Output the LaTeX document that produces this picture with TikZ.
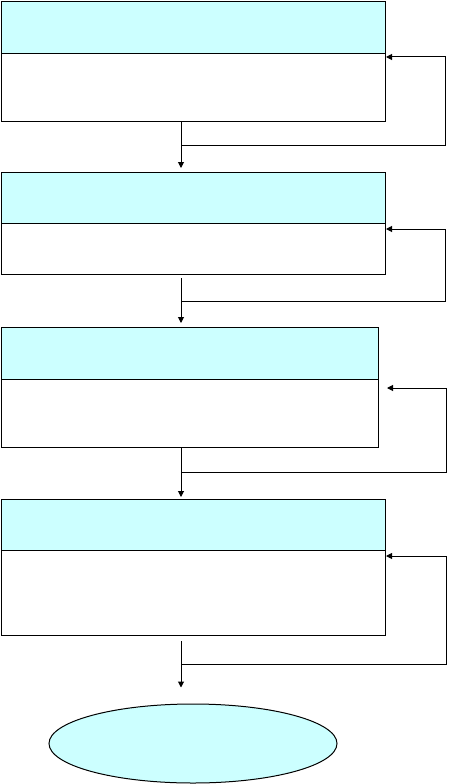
\documentclass[tikz,border=0pt]{standalone}
\usetikzlibrary{arrows.meta,shapes.geometric}
\definecolor{hdr}{HTML}{CCFFFF}
\tikzset{
  hbox/.style={draw=black,line width=1pt,fill=hdr,rectangle,anchor=north west,inner sep=0pt,minimum width=#1},
  bbox/.style={draw=black,line width=1pt,fill=white,rectangle,anchor=north west,inner sep=0pt,minimum width=#1},
  conn/.style={draw=black,line width=1pt},
  arr/.style={conn,-{Triangle[length=6pt,width=6pt]}},
  endoval/.style={ellipse,draw=black,line width=1pt,fill=hdr,inner sep=0pt,minimum width=288pt,minimum height=79pt}
}
\begin{document}
\begin{tikzpicture}[x=1pt,y=-1pt]
\useasboundingbox (0,0) rectangle (448,784);
% boxes
\node[hbox=384pt,minimum height=52pt] (h1) at (1,1) {};
\node[bbox=384pt,minimum height=68pt] (b1) at (1,53) {};
\node[hbox=384pt,minimum height=51pt] (h2) at (1,172) {};
\node[bbox=384pt,minimum height=51pt] (b2) at (1,223) {};
\node[hbox=377pt,minimum height=52pt] (h3) at (1,327) {};
\node[bbox=377pt,minimum height=68pt] (b3) at (1,379) {};
\node[hbox=384pt,minimum height=51pt] (h4) at (1,499) {};
\node[bbox=384pt,minimum height=85pt] (b4) at (1,550) {};
\node[endoval] (end) at (193,743.5) {};
% axis and loop coordinates
\coordinate (axis) at (181,0);
\coordinate (j1) at (181,145);  \coordinate (r1) at (445,57);  \coordinate (t1) at (386,57);
\coordinate (j2) at (181,301);  \coordinate (r2) at (445,229); \coordinate (t2) at (386,229);
\coordinate (j3) at (181,472);  \coordinate (r3) at (446,388); \coordinate (t3) at (387,388);
\coordinate (j4) at (181,664);  \coordinate (r4) at (446,556); \coordinate (t4) at (386,556);
% down arrows
\draw[arr,shorten >=4pt] (b1.south -| axis) -- (h2.north -| axis);
\draw[arr,shorten <=3pt,shorten >=4pt] (b2.south -| axis) -- (h3.north -| axis);
\draw[arr,shorten >=2pt] (b3.south -| axis) -- (h4.north -| axis);
\draw[arr,shorten <=5pt,shorten >=16pt] (b4.south -| axis) -- (end.north -| axis);
% feedback loops
\draw[arr] (j1) -| (r1) -- (t1);
\draw[arr] (j2) -| (r2) -- (t2);
\draw[arr] (j3) -| (r3) -- (t3);
\draw[arr] (j4) -| (r4) -- (t4);
\end{tikzpicture}
\end{document}
